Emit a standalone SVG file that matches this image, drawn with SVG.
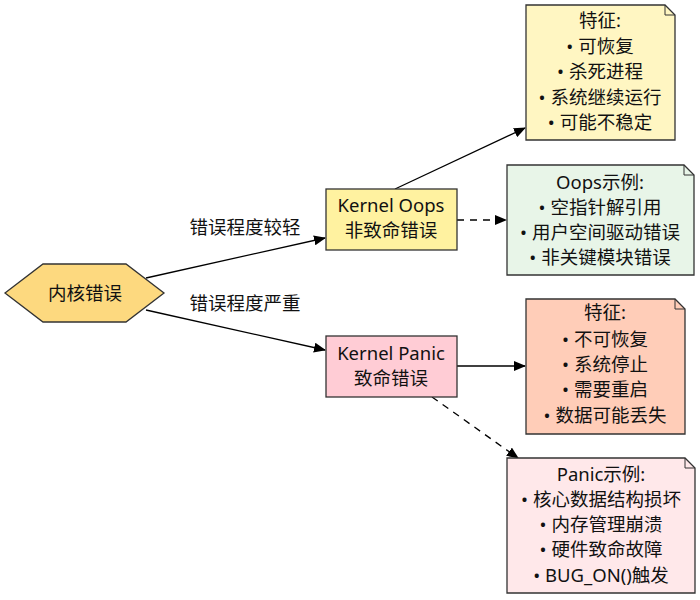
<svg xmlns="http://www.w3.org/2000/svg" width="700" height="600" viewBox="0 0 700 600">
<defs>
<marker id="arr" markerWidth="12" markerHeight="10" refX="11" refY="5" orient="auto" markerUnits="userSpaceOnUse">
<path d="M0,0 L12,5 L0,10 Z" fill="#000"/>
</marker>
<style>
text{font-family:"Segoe UI","Noto Sans","Noto Sans CJK SC",sans-serif;font-size:18.5px;fill:#111;text-anchor:middle}
.lbl{font-size:18.5px}
.shape{stroke:#333;stroke-width:1.3}
.edge{stroke:#000;stroke-width:1.3;fill:none;marker-end:url(#arr)}
.dash{stroke-dasharray:7,6}
</style>
</defs>
<rect width="700" height="600" fill="#fff"/>
<g id="connectors">
<line class="edge" x1="146" y1="278" x2="325" y2="238"/>
<line class="edge" x1="146" y1="310" x2="325" y2="350"/>
<line class="edge" x1="395" y1="189" x2="525" y2="128"/>
<line class="edge dash" x1="457" y1="220" x2="506" y2="220"/>
<line class="edge" x1="457" y1="366" x2="525" y2="366"/>
<line class="edge dash" x1="432" y1="397" x2="518" y2="458"/>
<text class="lbl" x="245" y="234">错误程度较轻</text>
<text class="lbl" x="245" y="310">错误程度严重</text>
</g>
<g id="kernel-error">
<polygon class="shape" points="5,293 43,264 126,264 164,293 126,322 43,322" fill="#FDD97F"/>
<text x="85" y="300">内核错误</text>
</g>
<g id="kernel-oops">
<rect class="shape" x="326" y="189" width="131" height="61" fill="#FFF2A0"/>
<text x="391" y="212">Kernel Oops</text>
<text x="391" y="237">非致命错误</text>
</g>
<g id="kernel-panic">
<rect class="shape" x="326" y="336" width="131" height="61" fill="#FFCCD5"/>
<text x="391" y="360">Kernel Panic</text>
<text x="391" y="385">致命错误</text>
</g>
<g id="oops-features">
<path class="shape" d="M526,5 H665 L675,15 V140 H526 Z" fill="#FFF6C2"/>
<path d="M665,5 V15 H675" fill="none" stroke="#333" stroke-width="1"/>
<text x="600" y="27">特征:</text>
<text x="600" y="53">• 可恢复</text>
<text x="600" y="78">• 杀死进程</text>
<text x="600" y="104">• 系统继续运行</text>
<text x="600" y="129">• 可能不稳定</text>
</g>
<g id="oops-examples">
<path class="shape" d="M507,165 H684 L694,175 V275 H507 Z" fill="#E8F5E8"/>
<path d="M684,165 V175 H694" fill="none" stroke="#333" stroke-width="1"/>
<text x="600" y="189">Oops示例:</text>
<text x="600" y="214">• 空指针解引用</text>
<text x="600" y="239">• 用户空间驱动错误</text>
<text x="600" y="264">• 非关键模块错误</text>
</g>
<g id="panic-features">
<path class="shape" d="M526,299 H675 L685,309 V434 H526 Z" fill="#FFCDB8"/>
<path d="M675,299 V309 H685" fill="none" stroke="#333" stroke-width="1"/>
<text x="605" y="319">特征:</text>
<text x="605" y="346">• 不可恢复</text>
<text x="605" y="371">• 系统停止</text>
<text x="605" y="396">• 需要重启</text>
<text x="605" y="422">• 数据可能丢失</text>
</g>
<g id="panic-examples">
<path class="shape" d="M507,458 H685 L695,468 V593 H507 Z" fill="#FFE8EA"/>
<path d="M685,458 V468 H695" fill="none" stroke="#333" stroke-width="1"/>
<text x="601" y="481">Panic示例:</text>
<text x="601" y="506">• 核心数据结构损坏</text>
<text x="601" y="531">• 内存管理崩溃</text>
<text x="601" y="556">• 硬件致命故障</text>
<text x="601" y="582">• BUG_ON()触发</text>
</g>
</svg>
